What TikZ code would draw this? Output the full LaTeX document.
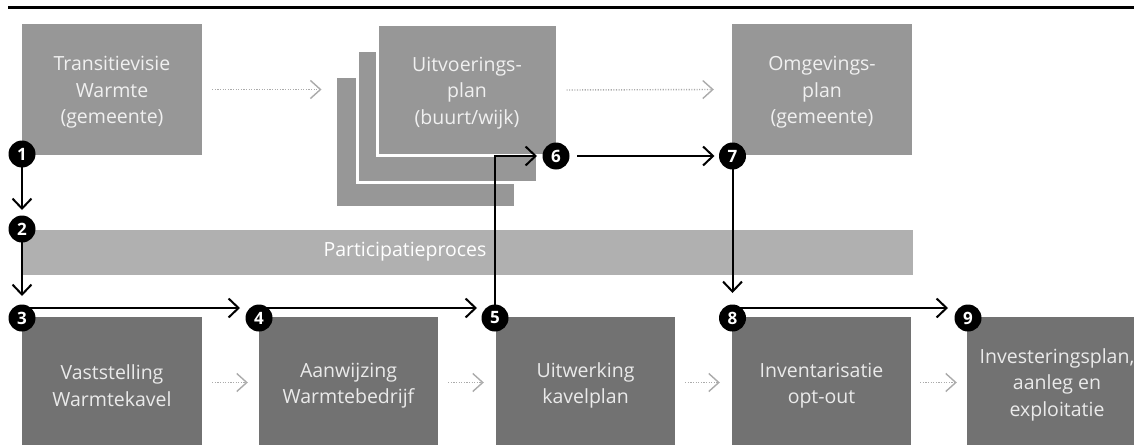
\documentclass[tikz,border=0pt]{standalone}
\usepackage{fontspec}
\setmainfont{Open Sans}
\usetikzlibrary{arrows.meta}
\definecolor{topgray}{HTML}{979797}
\definecolor{bargray}{HTML}{B0B0B0}
\definecolor{botgray}{HTML}{727272}
\definecolor{toptext}{HTML}{F0F0F0}
\definecolor{bottext}{HTML}{EAEAEA}
\definecolor{dotgray}{HTML}{ABABAB}
\begin{document}
\begin{tikzpicture}[x=1pt,y=-1pt,
  box/.style={rectangle, minimum width=180pt, minimum height=131pt, inner sep=0pt},
  boxtext/.style={align=center, inner sep=0pt, font=\fontsize{19.5}{26.5}\selectfont},
  topbox/.style={box, fill=topgray},
  toplabel/.style={boxtext, text=toptext, yshift=-3pt},
  stackbox/.style={topbox, draw=white, line width=3pt},
  botbox/.style={box, fill=botgray},
  botlabel/.style={boxtext, text=bottext, yshift=-3pt},
  num/.style={circle, fill=black, text=white, minimum size=27pt, inner sep=0pt, font=\fontsize{17}{17}\bfseries\selectfont},
  flow/.style={draw=black, line width=2pt, -{Straight Barb[length=10pt,width=19pt]}},
  dots/.style={draw=dotgray, line width=1.4pt, dash pattern=on 1.1pt off 1.5pt, -{Straight Barb[length=10pt,width=18pt]}}
]
\useasboundingbox (0,0) rectangle (1134,444);
\clip (0,0) rectangle (1134,444);
\fill[white] (0,0) rectangle (1134,444);

% top rule
\coordinate (rl) at (8,7.5);
\coordinate (rr) at (1134,7.5);
\draw[line width=3pt] (rl) -- (rr);

% top row
\node[topbox, label={[toplabel]center:{Transitievisie\\Warmte\\(gemeente)}}] (tv) at (112,89.5) {};
\node[stackbox] (sb) at (425,142) {};
\node[stackbox] (sm) at (447,116.5) {};
\node[stackbox, label={[toplabel]center:{Uitvoerings-\\plan\\(buurt/wijk)}}] (sf) at (467,90) {};
\node[topbox, label={[toplabel]center:{Omgevings-\\plan\\(gemeente)}}] (og) at (822,89.5) {};

% participation bar
\node[rectangle, fill=bargray, minimum width=891pt, minimum height=45pt, inner sep=0pt] (bar) at (467.5,252.5) {};
\node[text=white, font=\fontsize{19.5}{26}\selectfont, inner sep=0pt] (bart) at (405,252) {Participatieproces};

% bottom row
\node[botbox, label={[botlabel]center:{Vaststelling\\Warmtekavel}}] (vs) at (112,382.5) {};
\node[botbox, minimum width=179pt, label={[botlabel]center:{Aanwijzing\\Warmtebedrijf}}] (aw) at (348.5,382.5) {};
\node[botbox, minimum width=179pt, label={[botlabel]center:{Uitwerking\\kavelplan}}] (uw) at (585.5,382.5) {};
\node[botbox, minimum width=179pt, label={[botlabel]center:{Inventarisatie\\opt-out}}] (inv) at (821.5,382.5) {};
\node[botbox, label={[botlabel,yshift=1pt]center:{Investeringsplan,\\aanleg en\\exploitatie}}] (ib) at (1057,382.5) {};

% dotted arrows
\path (sb.west |- tv.east) coordinate (sbin);
\draw[dots] ([xshift=10pt]tv.east) -- ([xshift=-12pt]sbin);
\draw[dots] ([xshift=8pt]sf.east) -- ([xshift=-18pt]og.west);
\draw[dots] ([xshift=10pt]vs.east) -- ([xshift=-11pt]aw.west);
\draw[dots] ([xshift=10pt]aw.east) -- ([xshift=-12pt]uw.west);
\draw[dots] ([xshift=10pt]uw.east) -- ([xshift=-12pt]inv.west);
\draw[dots] ([xshift=9pt]inv.east) -- ([xshift=-10pt]ib.west);

% numbered circles
\coordinate (p1) at (22,154);
\coordinate (p2) at (22,229);
\coordinate (p3) at (22,318);
\coordinate (p4) at (259,318);
\coordinate (p5) at (495,318);
\coordinate (p6) at (556,156);
\coordinate (p7) at (732.5,156);
\coordinate (p8) at (732.5,318);
\coordinate (p9) at (968,318);

% black flow arrows
\draw[flow] (p1) -- ([yshift=19pt]p2);
\draw[flow] (p2) -- ([yshift=22pt]p3);
\draw[flow] ([yshift=10pt]p3) -- ([yshift=10pt,xshift=-19pt]p4);
\draw[flow] ([yshift=10pt]p4) -- ([yshift=10pt,xshift=-18pt]p5);
\draw[flow] (p5) |- ([xshift=-19pt]p6);
\draw[flow] ([xshift=21pt]p6) -- ([xshift=-18pt]p7);
\draw[flow] (p7) -- ([yshift=25pt]p8);
\draw[flow] ([yshift=10pt]p8) -- ([yshift=10pt,xshift=-20pt]p9);

\node[num] (c1) at (p1) {1};
\node[num] (c2) at (p2) {2};
\node[num] (c3) at (p3) {3};
\node[num] (c4) at (p4) {4};
\node[num] (c5) at (p5) {5};
\node[num] (c6) at (p6) {6};
\node[num] (c7) at (p7) {7};
\node[num] (c8) at (p8) {8};
\node[num] (c9) at (p9) {9};
\end{tikzpicture}
\end{document}
